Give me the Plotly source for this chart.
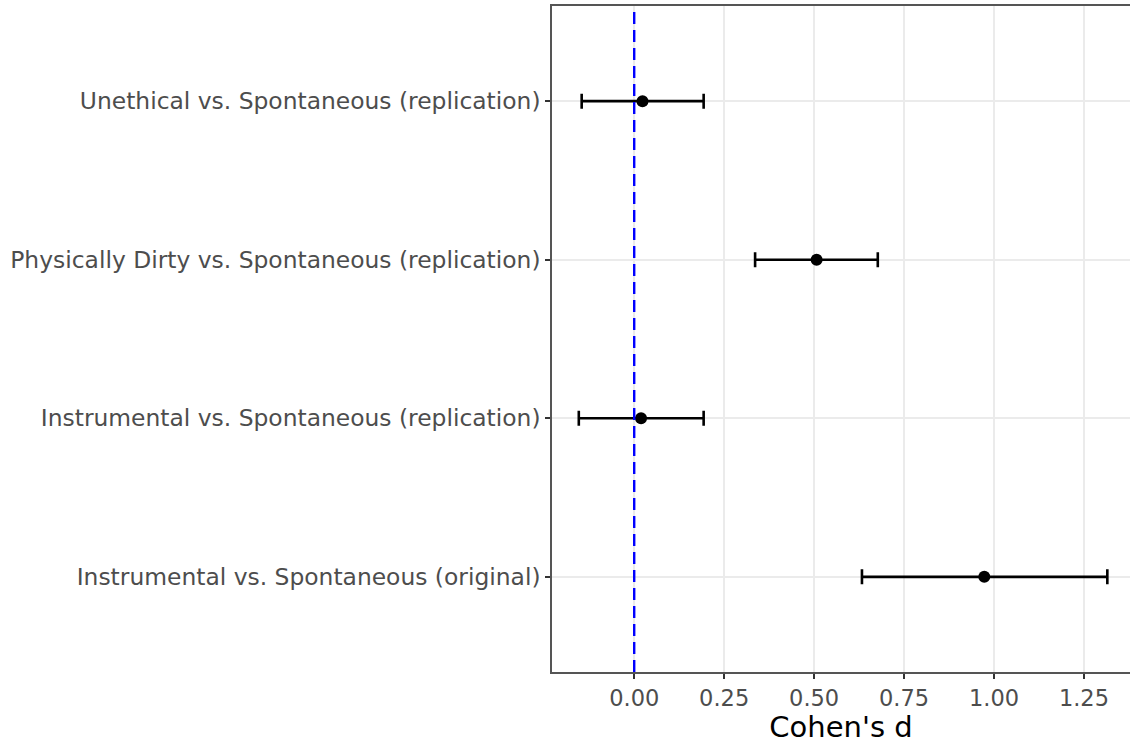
import plotly.graph_objects as go

categories = [
    "Instrumental vs. Spontaneous (original)",
    "Instrumental vs. Spontaneous (replication)",
    "Physically Dirty vs. Spontaneous (replication)",
    "Unethical vs. Spontaneous (replication)",
]
estimate = [0.973, 0.019, 0.507, 0.023]
ci_low = [0.633, -0.154, 0.336, -0.146]
ci_high = [1.315, 0.193, 0.677, 0.193]

x_ticks = [0.0, 0.25, 0.5, 0.75, 1.0, 1.25]
x_tick_labels = ["0.00", "0.25", "0.50", "0.75", "1.00", "1.25"]

font_family = "DejaVu Sans, Liberation Sans, sans-serif"

fig = go.Figure()
fig.add_trace(go.Scatter(
    x=estimate,
    y=categories,
    mode="markers",
    marker=dict(color="black", size=12),
    error_x=dict(
        type="data",
        symmetric=False,
        array=[h - e for h, e in zip(ci_high, estimate)],
        arrayminus=[e - l for e, l in zip(estimate, ci_low)],
        color="black",
        thickness=2.6,
        width=7.5,
    ),
    showlegend=False,
))

fig.add_shape(type="line", xref="x", yref="paper", x0=0, x1=0, y0=0, y1=1,
              line=dict(color="blue", width=2.4, dash="12px,6px"))

fig.update_layout(
    width=1130,
    height=744,
    margin=dict(l=552, r=0, t=6, b=72),
    plot_bgcolor="white",
    paper_bgcolor="white",
    font=dict(family=font_family, color="#4D4D4D", size=23),
    xaxis=dict(
        range=[-0.2285, 1.378],
        tickvals=x_ticks,
        ticktext=x_tick_labels,
        showgrid=True,
        gridcolor="#EBEBEB",
        gridwidth=2,
        zeroline=False,
        showline=True,
        linecolor="#555555",
        linewidth=1.5,
        mirror=True,
        ticks="outside",
        ticklen=5,
        tickwidth=1.5,
        tickcolor="#333333",
        tickfont=dict(size=22.5, color="#4D4D4D"),
        title=dict(text="Cohen's d", font=dict(size=29, color="black"), standoff=6),
    ),
    yaxis=dict(
        categoryorder="array",
        categoryarray=categories,
        range=[-0.6, 3.6],
        showgrid=True,
        gridcolor="#EBEBEB",
        gridwidth=2,
        zeroline=False,
        showline=True,
        linecolor="#555555",
        linewidth=1.5,
        ticks="outside",
        ticklen=5,
        tickwidth=1.5,
        tickcolor="#333333",
        tickfont=dict(size=23.4, color="#4D4D4D"),
    ),
)

fig.write_html(
    "out.html",
    config={"displayModeBar": False},
    post_script="document.body.style.margin='0';document.body.style.overflow='hidden';window.dispatchEvent(new Event('resize'));",
)
